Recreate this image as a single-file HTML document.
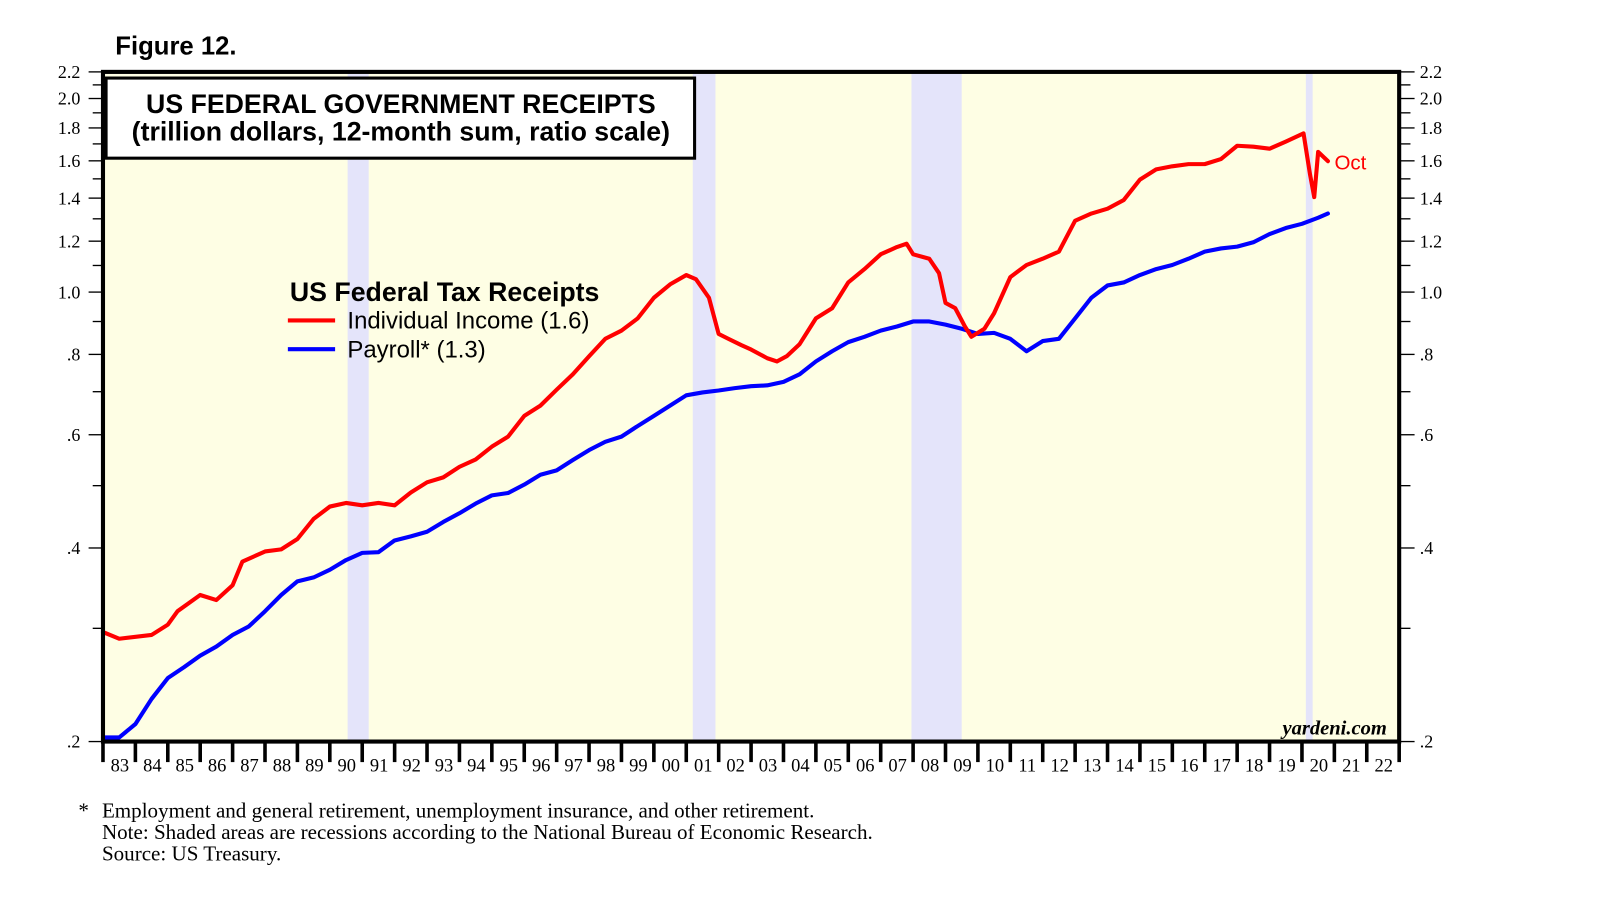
<!DOCTYPE html>
<html><head><meta charset="utf-8">
<style>
html,body{margin:0;padding:0;background:#fff;}
svg{display:block;}
.ser{font-family:"Liberation Serif",serif;}
.sans{font-family:"Liberation Sans",sans-serif;}
</style></head>
<body>
<svg id="chart" width="1610" height="910" viewBox="0 0 1567 886" xmlns="http://www.w3.org/2000/svg">
<text x="112" y="53" class="sans" font-size="25" font-weight="bold">Figure 12.</text>
<rect x="100" y="70" width="1262" height="652" fill="#fefee4"/>
<g id="bands"></g>
<g id="ticks"></g>
<g id="lines"></g>
<rect x="100" y="70" width="1262" height="652" fill="none" stroke="#000" stroke-width="4"/>
<rect x="103" y="76" width="573" height="78" fill="#fff" stroke="#000" stroke-width="3"/>
<text x="390" y="110" text-anchor="middle" class="sans" font-size="26" font-weight="bold">US FEDERAL GOVERNMENT RECEIPTS</text>
<text x="390" y="137" text-anchor="middle" class="sans" font-size="26" font-weight="bold">(trillion dollars, 12-month sum, ratio scale)</text>
<g>
<text x="282" y="293" class="sans" font-size="26" font-weight="bold">US Federal Tax Receipts</text>
<line x1="280" y1="312" x2="326" y2="312" stroke="#f00" stroke-width="4"/>
<text x="338" y="320" class="sans" font-size="23.3">Individual Income (1.6)</text>
<line x1="280" y1="340" x2="326" y2="340" stroke="#00f" stroke-width="4"/>
<text x="338" y="348" class="sans" font-size="23.3">Payroll* (1.3)</text>
</g>
<text x="1299" y="165" class="sans" font-size="20" fill="#f00">Oct</text>
<text x="1350" y="715" text-anchor="end" class="ser" font-size="20" font-style="italic" font-weight="bold">yardeni.com</text>
<g class="ser" font-size="20.5">
<text x="76" y="796">*</text>
<text x="99" y="796">Employment and general retirement, unemployment insurance, and other retirement.</text>
<text x="99" y="817">Note: Shaded areas are recessions according to the National Bureau of Economic Research.</text>
<text x="99" y="838">Source: US Treasury.</text>
</g>
</svg>
<script>
const recessions = [[1990.55,1991.2],[2001.2,2001.9],[2007.95,2009.5],[2020.12,2020.33]];
const yTicks = [0.2,0.3,0.4,0.5,0.6,0.7,0.8,0.9,1.0,1.1,1.2,1.3,1.4,1.5,1.6,1.7,1.8,1.9,2.0,2.1,2.2];
const yLabels = ['.2','','.4','','.6','','.8','','1.0','','1.2','','1.4','','1.6','','1.8','','2.0','','2.2'];
const yearLabels = ['83','84','85','86','87','88','89','90','91','92','93','94','95','96','97','98','99','00','01','02','03','04','05','06','07','08','09','10','11','12','13','14','15','16','17','18','19','20','21','22'];
const incomeDates = [1983.0,1983.5,1984.5,1985.0,1985.3,1986.0,1986.5,1987.0,1987.3,1988.0,1988.5,1989.0,1989.5,1990.0,1990.5,1991.0,1991.5,1992.0,1992.5,1993.0,1993.5,1994.0,1994.5,1995.0,1995.5,1996.0,1996.5,1997.0,1997.5,1998.0,1998.5,1999.0,1999.5,2000.0,2000.5,2001.0,2001.3,2001.7,2002.0,2002.3,2002.7,2003.0,2003.5,2003.8,2004.1,2004.5,2005.0,2005.5,2006.0,2006.5,2007.0,2007.5,2007.8,2008.0,2008.5,2008.8,2009.0,2009.3,2009.6,2009.8,2010.2,2010.5,2011.0,2011.5,2012.0,2012.5,2013.0,2013.5,2014.0,2014.5,2015.0,2015.5,2016.0,2016.5,2017.0,2017.5,2018.0,2018.5,2019.0,2019.5,2020.05,2020.25,2020.38,2020.5,2020.8];
const incomeValues = [0.296,0.289,0.293,0.304,0.319,0.338,0.332,0.350,0.381,0.395,0.398,0.413,0.444,0.464,0.470,0.466,0.470,0.466,0.488,0.506,0.515,0.535,0.549,0.575,0.596,0.642,0.666,0.705,0.745,0.795,0.846,0.871,0.910,0.980,1.028,1.063,1.047,0.980,0.861,0.846,0.827,0.814,0.789,0.780,0.795,0.830,0.910,0.944,1.035,1.086,1.145,1.175,1.189,1.145,1.127,1.070,0.962,0.944,0.884,0.852,0.877,0.927,1.055,1.102,1.127,1.156,1.291,1.325,1.348,1.390,1.496,1.552,1.569,1.581,1.581,1.610,1.689,1.683,1.671,1.714,1.765,1.524,1.405,1.652,1.598];
const payrollDates = [1983.0,1983.5,1984.0,1984.5,1985.0,1985.5,1986.0,1986.5,1987.0,1987.5,1988.0,1988.5,1989.0,1989.5,1990.0,1990.5,1991.0,1991.5,1992.0,1992.5,1993.0,1993.5,1994.0,1994.5,1995.0,1995.5,1996.0,1996.5,1997.0,1997.5,1998.0,1998.5,1999.0,1999.5,2000.0,2000.5,2001.0,2001.5,2002.0,2002.5,2003.0,2003.5,2004.0,2004.5,2005.0,2005.5,2006.0,2006.5,2007.0,2007.5,2008.0,2008.5,2009.0,2009.5,2010.0,2010.5,2011.0,2011.5,2012.0,2012.5,2013.0,2013.5,2014.0,2014.5,2015.0,2015.5,2016.0,2016.5,2017.0,2017.5,2018.0,2018.5,2019.0,2019.5,2020.0,2020.5,2020.8];
const payrollValues = [0.203,0.203,0.213,0.233,0.251,0.261,0.272,0.281,0.293,0.302,0.319,0.338,0.355,0.360,0.370,0.383,0.393,0.394,0.411,0.417,0.424,0.439,0.453,0.469,0.483,0.487,0.502,0.520,0.528,0.548,0.568,0.585,0.596,0.619,0.642,0.666,0.691,0.698,0.703,0.709,0.714,0.716,0.725,0.745,0.780,0.809,0.836,0.852,0.871,0.884,0.900,0.900,0.890,0.877,0.861,0.864,0.846,0.809,0.839,0.846,0.910,0.980,1.024,1.035,1.063,1.086,1.102,1.127,1.156,1.169,1.177,1.195,1.231,1.258,1.277,1.305,1.325];

const NS='http://www.w3.org/2000/svg';
const X0=100,X1=1362,Y0=70,Y1=722,T0=1983,T1=2023,VMIN=0.2,VMAX=2.2;
function xs(t){return X0+(t-T0)/(T1-T0)*(X1-X0);}
function ys(v){return Y1-Math.log(v/VMIN)/Math.log(VMAX/VMIN)*(Y1-Y0);}
function mk(tag,attrs,parent){const e=document.createElementNS(NS,tag);for(const k in attrs)e.setAttribute(k,attrs[k]);parent.appendChild(e);return e;}
const bands=document.getElementById('bands'),ticks=document.getElementById('ticks'),lines=document.getElementById('lines');
recessions.forEach(r=>{
  const e=mk('rect',{x:xs(r[0]),y:Y0,width:xs(r[1])-xs(r[0]),height:Y1-Y0,fill:'#e4e4fa'},bands);
  
  
});
yTicks.forEach((v,i)=>{
  const y=ys(v);
  const lab=yLabels[i];
  const l1=mk('line',{x1:lab?86:90,y1:y,x2:100,y2:y,stroke:'#000','stroke-width':1.3},ticks);
  
  
  const l2=mk('line',{x1:1362,y1:y,x2:lab?1377:1373,y2:y,stroke:'#000','stroke-width':1.3},ticks);
  
  
  if(lab){
    const t1=mk('text',{x:78,y:y+6,'text-anchor':'end','font-size':17.5,'class':'ser'},ticks);
    t1.textContent=lab;
    
    
    const t2=mk('text',{x:1382,y:y+6,'font-size':17.5,'class':'ser'},ticks);
    t2.textContent=lab;
    
    
  }
});
for(let i=0;i<=yearLabels.length;i++){
  const x=xs(T0+i);
  const l=mk('line',{x1:x,y1:Y1,x2:x,y2:742,stroke:'#000','stroke-width':3.5},ticks);
  
  
  if(i<yearLabels.length){
    const t=mk('text',{x:x+16.5,y:751,'text-anchor':'middle','font-size':18,'class':'ser'},ticks);
    t.textContent=yearLabels[i];
    
    
  }
}
function drawLine(d,v,color,name){
  const pts=d.map((t,i)=>xs(t).toFixed(1)+','+ys(v[i]).toFixed(1)).join(' ');
  const p=mk('polyline',{points:pts,fill:'none',stroke:color,'stroke-width':4,'stroke-linejoin':'round','stroke-linecap':'round'},lines);
  
  
}
drawLine(payrollDates,payrollValues,'#0000ff','payroll-line');
drawLine(incomeDates,incomeValues,'#ff0000','individual-income-line');
</script>
</body></html>
